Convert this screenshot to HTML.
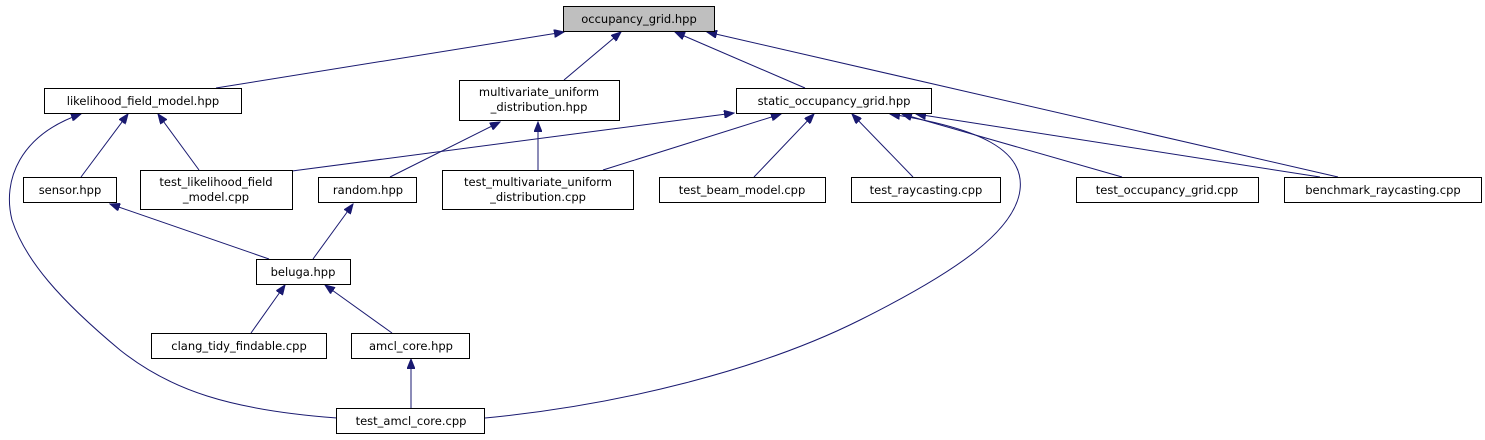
<!DOCTYPE html>
<html><head><meta charset="utf-8"><style>
html,body{margin:0;padding:0;background:#fff;}
svg{display:block;}
text{font-family:"DejaVu Sans","Liberation Sans",sans-serif;font-size:11.5px;fill:#000;}
.n{fill:#fff;stroke:#000;stroke-width:1;}
.e{fill:none;stroke:#191970;stroke-width:1;marker-end:url(#a);}
</style></head><body>
<svg width="1485" height="440" viewBox="0 0 1485 440" xmlns="http://www.w3.org/2000/svg">
<defs><marker id="a" markerUnits="userSpaceOnUse" markerWidth="11" markerHeight="8" refX="10" refY="4" orient="auto"><path d="M0,0 L10,4 L0,8 z" fill="#191970" stroke="#191970"/></marker></defs>
<g>
<line class="e" x1="216" y1="88" x2="564" y2="32"/>
<line class="e" x1="564" y1="80" x2="621" y2="32"/>
<line class="e" x1="805" y1="88" x2="675" y2="32"/>
<line class="e" x1="1338" y1="177" x2="707" y2="32"/>
<line class="e" x1="81" y1="177" x2="128" y2="114"/>
<line class="e" x1="199" y1="170" x2="158" y2="114"/>
<path class="e" d="M337,418 C230,410 170,390 120,350 C60,300 25,260 12,220 C2,180 20,135 81,114"/>
<line class="e" x1="292" y1="171" x2="734" y2="113"/>
<line class="e" x1="390" y1="177" x2="500" y2="122"/>
<line class="e" x1="538" y1="170" x2="538" y2="122"/>
<line class="e" x1="313" y1="259" x2="353" y2="204"/>
<line class="e" x1="269" y1="259" x2="110" y2="204"/>
<line class="e" x1="603" y1="170" x2="781" y2="114"/>
<line class="e" x1="754" y1="177" x2="814" y2="114"/>
<line class="e" x1="913" y1="177" x2="852" y2="114"/>
<path class="e" d="M485,418 C620,405 760,370 860,320 C960,270 1015,230 1020,190 C1025,150 980,128 890,114"/>
<line class="e" x1="1122" y1="177" x2="902" y2="114"/>
<line class="e" x1="1320" y1="177" x2="916" y2="114"/>
<line class="e" x1="251" y1="333" x2="285" y2="285"/>
<line class="e" x1="392" y1="333" x2="325" y2="285"/>
<line class="e" x1="411" y1="408" x2="411" y2="359"/>
</g>
<g>
<rect x="563.5" y="6.5" width="151" height="25" fill="#bfbfbf" stroke="#000"/>
<text x="639" y="23" text-anchor="middle">occupancy_grid.hpp</text>

<rect class="n" x="44.5" y="88.5" width="197" height="25"/>
<text x="143" y="105" text-anchor="middle">likelihood_field_model.hpp</text>

<rect class="n" x="459.5" y="80.5" width="160" height="40"/>
<text x="539" y="96" text-anchor="middle">multivariate_uniform</text>
<text x="539" y="111" text-anchor="middle">_distribution.hpp</text>

<rect class="n" x="736.5" y="88.5" width="195" height="25"/>
<text x="834" y="105" text-anchor="middle">static_occupancy_grid.hpp</text>

<rect class="n" x="23.5" y="177.5" width="93" height="25"/>
<text x="70" y="194" text-anchor="middle">sensor.hpp</text>

<rect class="n" x="140.5" y="170.5" width="152" height="39"/>
<text x="216" y="186" text-anchor="middle">test_likelihood_field</text>
<text x="216" y="201" text-anchor="middle">_model.cpp</text>

<rect class="n" x="318.5" y="177.5" width="98" height="25"/>
<text x="368" y="194" text-anchor="middle">random.hpp</text>

<rect class="n" x="442.5" y="170.5" width="191" height="39"/>
<text x="538" y="186" text-anchor="middle">test_multivariate_uniform</text>
<text x="538" y="201" text-anchor="middle">_distribution.cpp</text>

<rect class="n" x="659.5" y="177.5" width="166" height="25"/>
<text x="742" y="194" text-anchor="middle">test_beam_model.cpp</text>

<rect class="n" x="851.5" y="177.5" width="149" height="25"/>
<text x="926" y="194" text-anchor="middle">test_raycasting.cpp</text>

<rect class="n" x="1076.5" y="177.5" width="182" height="25"/>
<text x="1167" y="194" text-anchor="middle">test_occupancy_grid.cpp</text>

<rect class="n" x="1284.5" y="177.5" width="197" height="25"/>
<text x="1383" y="194" text-anchor="middle">benchmark_raycasting.cpp</text>

<rect class="n" x="256.5" y="259.5" width="94" height="25"/>
<text x="303" y="276" text-anchor="middle">beluga.hpp</text>

<rect class="n" x="151.5" y="333.5" width="175" height="25"/>
<text x="239" y="350" text-anchor="middle">clang_tidy_findable.cpp</text>

<rect class="n" x="351.5" y="333.5" width="118" height="25"/>
<text x="411" y="350" text-anchor="middle">amcl_core.hpp</text>

<rect class="n" x="336.5" y="408.5" width="148" height="25"/>
<text x="411" y="425" text-anchor="middle">test_amcl_core.cpp</text>
</g>
</svg>
</body></html>
